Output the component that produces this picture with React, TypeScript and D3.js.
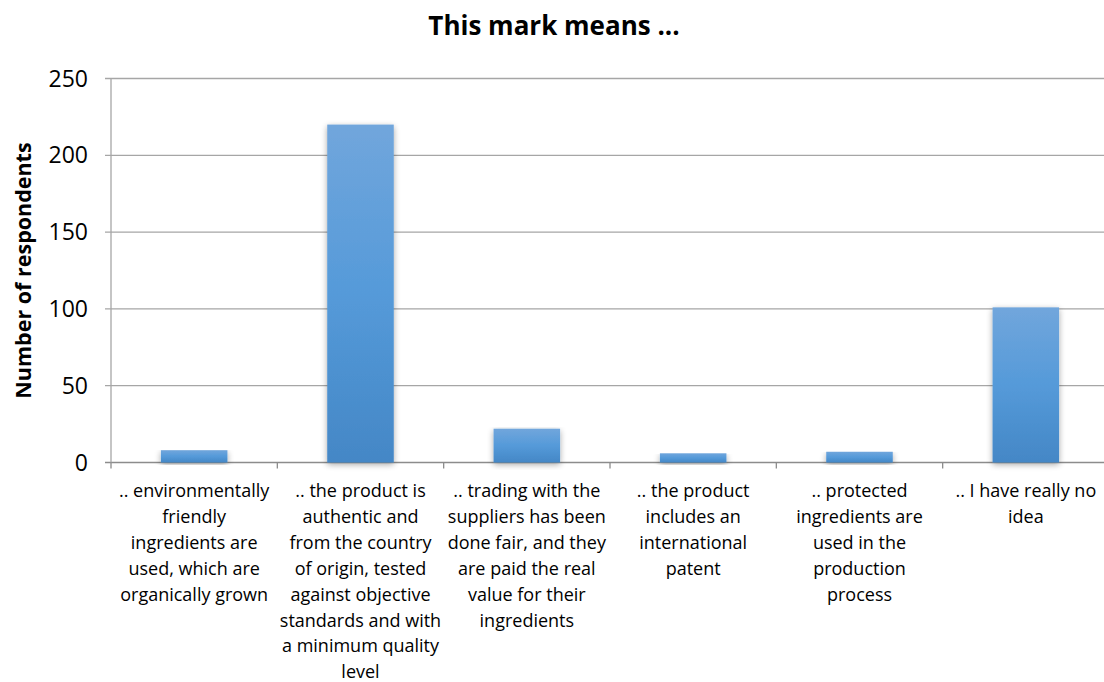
import React from "react";
import * as d3 from "d3";

// Survey answers: what respondents think the mark means
const categories: string[][] = [
  [".. environmentally", "friendly", "ingredients are", "used, which are", "organically grown"],
  [".. the product is", "authentic and", "from the country", "of origin, tested", "against objective", "standards and with", "a minimum quality", "level"],
  [".. trading with the", "suppliers has been", "done fair, and they", "are paid the real", "value for their", "ingredients"],
  [".. the product", "includes an", "international", "patent"],
  [".. protected", "ingredients are", "used in the", "production", "process"],
  [".. I have really no", "idea"],
];
const respondents: number[] = [8, 220, 22, 6, 7, 101];
const yTicks: number[] = [0, 50, 100, 150, 200, 250];

const W = 1104;
const H = 682;
const FONT = "'Open Sans', Lato, sans-serif";

export default function App() {
  const ids = categories.map((_, i) => String(i));
  const x = d3
    .scaleBand<string>()
    .domain(ids)
    .range([111, 1109])
    .paddingInner(0.6)
    .paddingOuter(0.3);
  const step = x.step();
  const left = 111;
  const right = 1109;
  const y = d3.scaleLinear().domain([0, 250]).range([462.5, 78.5]);

  return (
    <svg
      width={W}
      height={H}
      style={{ position: "absolute", left: 0, top: 0, background: "#fff" }}
      fontFamily={FONT}
    >
      <defs>
        <linearGradient id="barFill" x1="0" y1="0" x2="0" y2="1">
          <stop offset="0%" stopColor="#71a6dc" />
          <stop offset="50%" stopColor="#559ad9" />
          <stop offset="100%" stopColor="#4487c6" />
        </linearGradient>
        <filter id="barShadow" x="-30%" y="-10%" width="160%" height="130%">
          <feGaussianBlur in="SourceAlpha" stdDeviation="3" />
          <feOffset dx="0" dy="2" result="blur" />
          <feComponentTransfer>
            <feFuncA type="linear" slope="0.35" />
          </feComponentTransfer>
          <feMerge>
            <feMergeNode />
            <feMergeNode in="SourceGraphic" />
          </feMerge>
        </filter>
      </defs>

      <rect x={0} y={0} width={W} height={H} fill="#fff" />

      {/* title */}
      <text x={554} y={35} textAnchor="middle" fontSize={26} fontWeight="bold" fill="#000">
        This mark means ...
      </text>

      {/* horizontal gridlines and y ticks */}
      {yTicks.map((t) => (
        <g key={t}>
          <line x1={left - 6} x2={right} y1={y(t)} y2={y(t)} stroke={t === 0 ? "#8c8c8c" : "#a6a6a6"} strokeWidth={1.3} />
          <text x={88} y={y(t) + 8} textAnchor="end" fontSize={23} fill="#000">
            {t}
          </text>
        </g>
      ))}

      {/* value axis line */}
      <line x1={left} x2={left} y1={y(250)} y2={y(0)} stroke="#a6a6a6" strokeWidth={1.3} />

      {/* category tick marks */}
      {d3.range(categories.length + 1).map((i) => (
        <line
          key={i}
          x1={left + i * step}
          x2={left + i * step}
          y1={y(0)}
          y2={y(0) + 6}
          stroke="#8c8c8c"
          strokeWidth={1.3}
        />
      ))}

      {/* bars */}
      {respondents.map((v, i) => (
        <rect
          key={i}
          x={x(String(i))}
          y={y(v)}
          width={x.bandwidth()}
          height={y(0) - y(v)}
          fill="url(#barFill)"
          filter="url(#barShadow)"
        />
      ))}

      {/* category labels */}
      {categories.map((lines, i) => (
        <text
          key={i}
          x={(x(String(i)) as number) + x.bandwidth() / 2}
          y={497}
          textAnchor="middle"
          fontSize={18}
          fill="#000"
        >
          {lines.map((ln, j) => (
            <tspan key={j} x={(x(String(i)) as number) + x.bandwidth() / 2} y={497 + j * 25.9}>
              {ln}
            </tspan>
          ))}
        </text>
      ))}

      {/* y axis title */}
      <text
        transform={`translate(31, ${(y(0) + y(250)) / 2}) rotate(-90)`}
        textAnchor="middle"
        fontSize={21.5}
        fontWeight="bold"
        fill="#000"
      >
        Number of respondents
      </text>
    </svg>
  );
}
